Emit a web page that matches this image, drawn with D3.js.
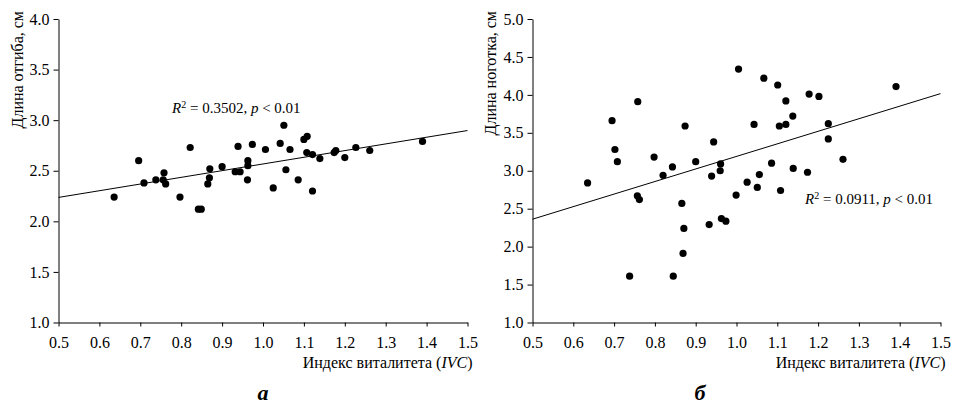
<!DOCTYPE html>
<html>
<head>
<meta charset="utf-8">
<script src="https://cdn.jsdelivr.net/npm/d3@7"></script>
<style>
  body { margin: 0; background: #fff; }
  svg { display: block; }
  svg text { font-family: "Liberation Serif", "Times New Roman", Times, "DejaVu Serif", serif !important; fill: #000; }
</style>
</head>
<body>
<svg id="chart" width="953" height="405"></svg>
<script>
// panel a: IVC vs limb length
const ivcA = [0.636, 0.696, 0.709, 0.738, 0.758, 0.756, 0.762, 0.797, 0.822, 0.842, 0.849,
  0.865, 0.869, 0.870, 0.900, 0.939, 0.932, 0.944, 0.962, 0.963, 0.963, 0.974, 1.006,
  1.025, 1.042, 1.051, 1.056, 1.066, 1.086, 1.100, 1.108, 1.107, 1.121, 1.121, 1.139,
  1.174, 1.178, 1.200, 1.227, 1.261, 1.390];
const lenA = [2.24, 2.60, 2.38, 2.41, 2.48, 2.41, 2.37, 2.24, 2.73, 2.12, 2.12,
  2.37, 2.43, 2.52, 2.54, 2.74, 2.49, 2.49, 2.41, 2.60, 2.55, 2.76, 2.71,
  2.33, 2.77, 2.95, 2.51, 2.71, 2.41, 2.81, 2.84, 2.68, 2.66, 2.30, 2.62,
  2.68, 2.70, 2.63, 2.73, 2.70, 2.79];

// panel б: IVC vs claw length
const ivcB = [0.635, 0.695, 0.702, 0.708, 0.738, 0.757, 0.762, 0.758, 0.798, 0.820, 0.843,
  0.845, 0.866, 0.869, 0.871, 0.874, 0.900, 0.933, 0.939, 0.944, 0.960, 0.961, 0.963,
  0.974, 0.999, 1.005, 1.026, 1.043, 1.051, 1.056, 1.067, 1.086, 1.101, 1.105, 1.108,
  1.121, 1.121, 1.138, 1.139, 1.174, 1.178, 1.202, 1.225, 1.225, 1.261, 1.391];
const lenB = [2.84, 3.66, 3.28, 3.12, 1.61, 2.67, 2.62, 3.91, 3.18, 2.94, 3.05,
  1.61, 2.57, 1.91, 2.24, 3.59, 3.12, 2.29, 2.93, 3.38, 3.00, 3.09, 2.37,
  2.335, 2.68, 4.34, 2.85, 3.61, 2.78, 2.95, 4.22, 3.10, 4.13, 3.59, 2.74,
  3.92, 3.61, 3.72, 3.03, 2.98, 4.01, 3.98, 3.62, 3.42, 3.15, 4.11];

// regression lines [intercept, slope]
const fitA = [1.906, 0.661];
const fitB = [1.534, 1.655];

const xTicks = [0.5, 0.6, 0.7, 0.8, 0.9, 1.0, 1.1, 1.2, 1.3, 1.4, 1.5];
const yTicksA = [1.0, 1.5, 2.0, 2.5, 3.0, 3.5, 4.0];
const yTicksB = [1.0, 1.5, 2.0, 2.5, 3.0, 3.5, 4.0, 4.5, 5.0];

const xTitle = "Индекс виталитета (";
const yTitleA = "Длина отгиба, см";
const yTitleB = "Длина ноготка, см";
const statA = {r2: "0.3502", p: "0.01"};
const statB = {r2: "0.0911", p: "0.01"};

const svg = d3.select("#chart");

function panel(opt) {
  const x = d3.scaleLinear().domain([0.5, 1.5]).range([opt.left, opt.right]);
  const y = d3.scaleLinear().domain(opt.yDomain).range([322.5, 19]);
  const g = svg.append("g");

  // axes
  const xAxis = d3.axisBottom(x).tickValues(xTicks).tickFormat(d3.format(".1f"))
    .tickSize(4).tickSizeOuter(0).tickPadding(10);
  const yAxis = d3.axisLeft(y).tickValues(opt.yTicks).tickFormat(d3.format(".1f"))
    .tickSize(5).tickSizeOuter(0).tickPadding(4);

  g.append("g")
    .attr("transform", "translate(0,322.5)")
    .call(xAxis);
  g.append("g")
    .attr("transform", "translate(" + opt.left + ",0)")
    .call(yAxis);
  g.selectAll("g").attr("font-family", null);
  g.selectAll(".tick text").attr("font-size", 16);
  g.selectAll(".domain, .tick line").attr("stroke", "#000").attr("stroke-width", 1);

  // fit line
  const line = d3.line()
    .x(d => x(d))
    .y(d => y(opt.fit[0] + opt.fit[1] * d));
  g.append("path")
    .attr("d", line([0.5, 1.5]))
    .attr("fill", "none")
    .attr("stroke", "#000")
    .attr("stroke-width", 1);

  // points
  g.selectAll("circle.pt")
    .data(opt.xs.map((v, i) => ({x: v, y: opt.ys[i]})))
    .join("circle")
    .attr("class", "pt")
    .attr("cx", d => x(d.x))
    .attr("cy", d => y(d.y))
    .attr("r", 3.6)
    .attr("fill", "#000");

  // x title
  const xt = g.append("text")
    .attr("x", opt.right + 5)
    .attr("y", 368)
    .attr("text-anchor", "end")
    .attr("font-size", 16);
  xt.append("tspan").text(xTitle);
  xt.append("tspan").attr("font-style", "italic").text("IVC");
  xt.append("tspan").text(")");

  // y title
  g.append("text")
    .attr("transform", "translate(" + opt.yTitleX + ",11) rotate(-90)")
    .attr("text-anchor", "end")
    .attr("font-size", 16)
    .text(opt.yTitle);

  // stats
  const st = g.append("text")
    .attr("x", opt.statX)
    .attr("y", opt.statY)
    .attr("font-size", 15);
  st.append("tspan").attr("font-style", "italic").text("R");
  st.append("tspan").attr("font-size", 10).attr("dy", -5.5).text("2");
  st.append("tspan").attr("dy", 5.5).text(" = " + opt.stat.r2 + ", ");
  st.append("tspan").attr("font-style", "italic").text("p");
  st.append("tspan").text(" < " + opt.stat.p);

  // panel letter
  g.append("text")
    .attr("x", opt.letterX)
    .attr("y", 400)
    .attr("text-anchor", "middle")
    .attr("font-size", 22)
    .attr("font-weight", "bold")
    .attr("font-style", "italic")
    .text(opt.letter);
}

panel({left: 58.5, right: 467.5, yDomain: [1, 4], yTicks: yTicksA, xs: ivcA, ys: lenA,
  fit: fitA, yTitle: yTitleA, yTitleX: 23, stat: statA, statX: 172, statY: 113, letter: "a", letterX: 263});
panel({left: 532.5, right: 940.5, yDomain: [1, 5], yTicks: yTicksB, xs: ivcB, ys: lenB,
  fit: fitB, yTitle: yTitleB, yTitleX: 496, stat: statB, statX: 805, statY: 204, letter: "б", letterX: 700});
</script>
</body>
</html>
